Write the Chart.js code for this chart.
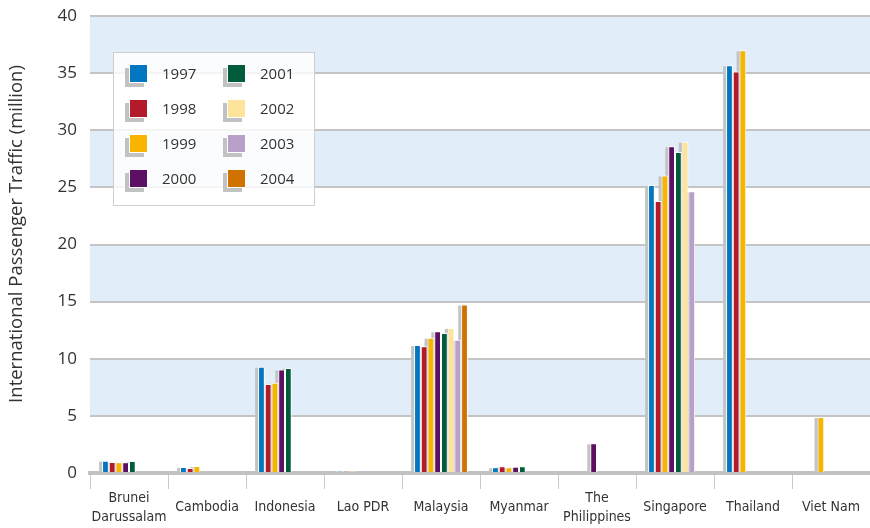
<!DOCTYPE html>
<html>
<head>
<meta charset="utf-8">
<script src="https://cdn.jsdelivr.net/npm/chart.js@4"></script>
<style>
  html, body { margin: 0; padding: 0; background: #fff; }
  #wrap { position: relative; width: 870px; height: 528px; }
  #legend {
    position: absolute; left: 113px; top: 52px; width: 200px; height: 152px;
    border: 1px solid #cfcfcf; background: rgba(255,255,255,0.82);
    font-family: "Open Sans", sans-serif; font-size: 15px; color: #333;
  }
  .item { position: absolute; height: 19px; line-height: 19px; }
  .sw { position: absolute; left: 0; top: 0; width: 19px; height: 19px; box-shadow: -4px 4px 0 #c2c2c2; border: 1px solid #fff; box-sizing: border-box; }
  .lb { position: absolute; left: 33px; top: 0; white-space: nowrap; }
</style>
</head>
<body>
<div id="wrap">
  <canvas id="myChart_traffic" width="870" height="528"></canvas>
  <div id="legend"></div>
</div>
<script>
// du lieu
var categories = [['Brunei', 'Darussalam'], 'Cambodia', 'Indonesia', 'Lao PDR', 'Malaysia', 'Myanmar', ['The', 'Philippines'], 'Singapore', 'Thailand', 'Viet Nam'];
var years = ['1997', '1998', '1999', '2000', '2001', '2002', '2003', '2004'];
var colors = ['#0077c0', '#b31b2b', '#f7b500', '#5b0f65', '#005c3a', '#fee39b', '#b9a0c9', '#d07200'];

var v1997 = [1.08, 0.53, 9.3, 0.15, 11.2, 0.5, null, 25.2, 35.7, null];
var v1998 = [0.97, 0.44, 7.8, 0.15, 11.1, 0.59, null, 23.8, 35.15, null];
var v1999 = [0.94, 0.61, 7.9, 0.15, 11.84, 0.5, null, 26.05, 37.0, 4.9];
var v2000 = [0.94, null, 9.06, null, 12.4, 0.55, 2.6, 28.6, null, null];
var v2001 = [1.05, null, 9.2, null, 12.25, 0.6, null, 28.1, null, null];
var v2002 = [null, null, null, null, 12.7, null, null, 29.0, null, null];
var v2003 = [null, null, null, null, 11.67, null, null, 24.65, null, null];
var v2004 = [null, null, null, null, 14.74, null, null, null, null, null];
var series = [v1997, v1998, v1999, v2000, v2001, v2002, v2003, v2004];

var yTitle = 'International Passenger Traffic (million)';

var datasets = years.map(function(y, i) {
    return {
        label: y,
        data: series[i],
        backgroundColor: colors[i],
        borderColor: '#ffffff',
        borderWidth: 1,
        categoryPercentage: 0.69,
        barPercentage: 1.0
    };
});

// dai nen xanh + bong cua cot
var bgPlugin = {
    id: 'bands',
    beforeDraw: function(chart) {
        var c = chart.ctx, a = chart.chartArea, y = chart.scales.y;
        c.save();
        c.fillStyle = '#e1eef9';
        for (var v = 5; v < 40; v += 10) {
            var t = y.getPixelForValue(v + 5), b = y.getPixelForValue(v);
            c.fillRect(a.left, t, a.right - a.left, b - t);
        }
        c.restore();
    },
    beforeDatasetsDraw: function(chart) {
        var c = chart.ctx;
        c.save();
        c.fillStyle = '#c4c4c4';
        chart.data.datasets.forEach(function(ds, i) {
            var meta = chart.getDatasetMeta(i);
            meta.data.forEach(function(bar, j) {
                if (ds.data[j] == null) return;
                var p = bar.getProps(['x', 'y', 'base', 'width'], true);
                c.fillRect(p.x - p.width / 2 - 3, p.y + 1, p.width, p.base - p.y - 1);
            });
        });
        c.restore();
    },
    afterDraw: function(chart) {
        var c = chart.ctx;
        c.save();
        c.translate(17, 234);
        c.rotate(-Math.PI / 2);
        c.font = '18.5px "Open Sans"';
        c.fillStyle = '#333';
        c.textAlign = 'center';
        c.textBaseline = 'middle';
        c.fillText(yTitle, 0, 0);
        c.restore();
    }
};

var ctx = document.getElementById('myChart_traffic').getContext('2d');
var myChart = new Chart(ctx, {
    type: 'bar',
    data: { labels: categories, datasets: datasets },
    options: {
        responsive: false,
        animation: false,
        layout: { padding: { top: 16, right: 0, left: 0, bottom: 0 } },
        plugins: { legend: { display: false }, tooltip: { enabled: false } },
        scales: {
            x: {
                grid: { offset: true, drawOnChartArea: false, color: '#c8c8c8', lineWidth: 1, tickLength: 16 },
                border: { display: true, color: '#c2c2c2', width: 4 },
                ticks: {
                    color: '#333', padding: 9, crossAlign: 'center', maxRotation: 0, autoSkip: false,
                    font: { family: '"DejaVu Sans Condensed", "Open Sans"', size: 14, lineHeight: 1.35 }
                },
                afterFit: function(s) { s.height = 55; s.paddingLeft = 0; s.paddingRight = 0; }
            },
            y: {
                min: 0, max: 40,
                grid: { color: '#c4c4c4', lineWidth: 2, drawTicks: false },
                border: { display: false },
                ticks: {
                    stepSize: 5, color: '#333', padding: 13,
                    font: { family: '"Open Sans"', size: 17 }
                },
                afterFit: function(s) { s.width = 90; s.paddingTop = 0; s.paddingBottom = 0; }
            }
        }
    },
    plugins: [bgPlugin]
});

// chu thich
var leg = document.getElementById('legend');
years.forEach(function(y, i) {
    var col = Math.floor(i / 4), row = i % 4;
    var it = document.createElement('div');
    it.className = 'item';
    it.style.left = (15 + col * 98) + 'px';
    it.style.top = (11 + row * 35) + 'px';
    it.innerHTML = '<div class="sw" style="background:' + colors[i] + '"></div><span class="lb">' + y + '</span>';
    leg.appendChild(it);
});
</script>
</body>
</html>
